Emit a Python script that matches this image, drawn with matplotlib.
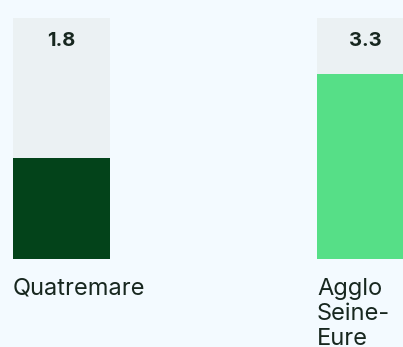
import matplotlib.pyplot as plt

plt.rcParams['font.family'] = ['Inter', 'DejaVu Sans']

# --- data ---
categories = ['Quatremare', 'Agglo\nSeine-\nEure']
values = [1.8, 3.3]
scale_max = 4.3
colors = ['#03431a', '#56df87']

bg = '#f3faff'
track = '#ebf1f3'
ink = '#17271f'

fig = plt.figure(figsize=(4.03, 3.47), dpi=100, facecolor=bg)
ax = fig.add_axes([0, 0.255, 1, 0.693])
ax.set_facecolor(bg)

width = 0.319
xs = list(range(len(categories)))

# full-height track behind each bar, then the value bar on top
ax.bar(xs, [scale_max] * len(xs), width=width, color=track, zorder=1)
ax.bar(xs, values, width=width, color=colors, zorder=2)

for x, v, name in zip(xs, values, categories):
    ax.annotate(f'{v:.1f}', xy=(x, scale_max), xytext=(0, -14),
                textcoords='offset pixels', ha='center', va='top',
                fontsize=14.5, fontweight='bold', color=ink)
    ax.annotate(name, xy=(x - width / 2, 0), xytext=(0, -19),
                textcoords='offset pixels', ha='left', va='top',
                fontsize=17, color=ink, linespacing=1.18,
                annotation_clip=False)

ax.set_xlim(-0.2023, 1.1234)
ax.set_ylim(0, scale_max)
ax.axis('off')

fig.savefig('out.png', dpi=100, facecolor=bg)
